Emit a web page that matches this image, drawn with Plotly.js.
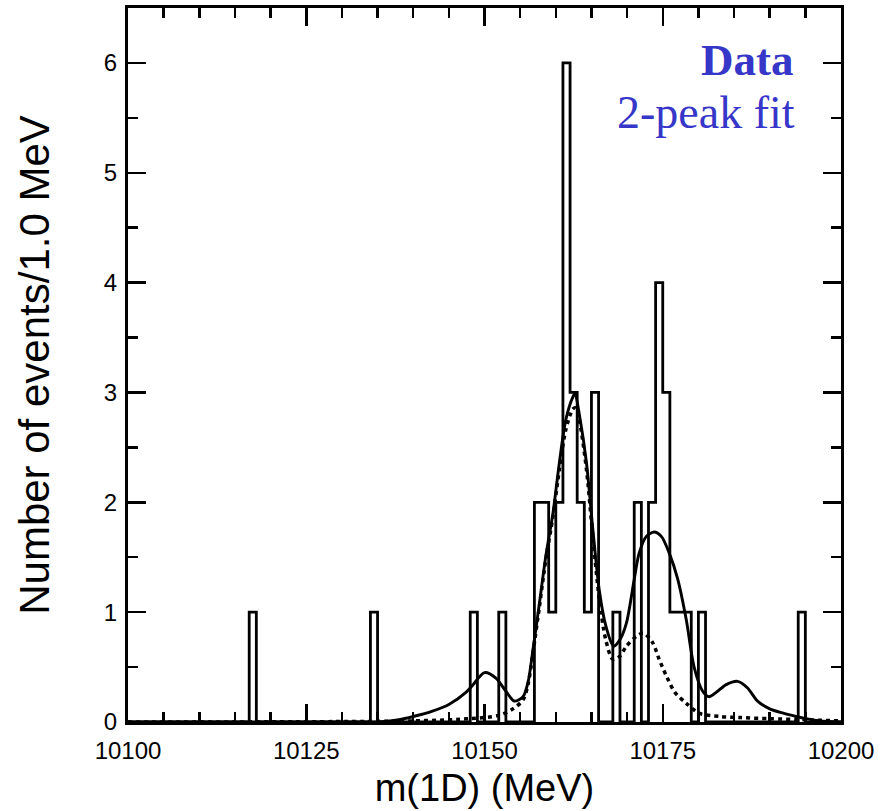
<!DOCTYPE html>
<html>
<head>
<meta charset="utf-8">
<script src="https://cdn.plot.ly/plotly-3.0.1.min.js"></script>
<style>
  html, body { margin: 0; padding: 0; background: #ffffff; }
  #chart { width: 889px; height: 811px; }
</style>
</head>
<body>
<div id="chart"></div>
<script>
// ---- Data ----
// Histogram: lower edges of non-empty 1 MeV bins and their counts
const binLow = [10117, 10134, 10148, 10152, 10157, 10158, 10159, 10160, 10161, 10162, 10163, 10164, 10165, 10168, 10171, 10173, 10174, 10175, 10176, 10177, 10178, 10180, 10194];
const binCounts = [1, 1, 1, 1, 2, 2, 1, 2, 6, 3, 2, 1, 3, 1, 2, 2, 4, 3, 1, 1, 1, 1, 1];
const histMin = 10100;
const histMax = 10200;
const binWidth = 1.0;

// 2-peak fit (solid line)
const fitX = [10100, 10130, 10136, 10138, 10140, 10142.7, 10145, 10147.4, 10148.4, 10150, 10151.6, 10153, 10154.2, 10155.4, 10156.1, 10156.8, 10157.7, 10158.6, 10159.6, 10160.5, 10161.4, 10162.4, 10162.7, 10163.3, 10164.3, 10165.2, 10166.1, 10167.0, 10168.1, 10169.0, 10169.9, 10171.0, 10171.7, 10172.7, 10173.8, 10174.8, 10175.9, 10177.1, 10178.3, 10179.4, 10180.6, 10181.5, 10182.5, 10183.9, 10185.5, 10186.9, 10188.3, 10190.0, 10191.9, 10193.7, 10195.1, 10197, 10200];
const fitY = [0, 0, 0.005, 0.02, 0.05, 0.1, 0.16, 0.27, 0.34, 0.45, 0.40, 0.28, 0.19, 0.23, 0.36, 0.66, 1.08, 1.51, 1.9, 2.36, 2.75, 2.96, 2.99, 2.8, 2.36, 1.75, 1.2, 0.88, 0.69, 0.75, 0.9, 1.3, 1.54, 1.69, 1.73, 1.69, 1.54, 1.3, 0.93, 0.5, 0.28, 0.23, 0.27, 0.34, 0.37, 0.31, 0.19, 0.12, 0.08, 0.05, 0.03, 0.01, 0];

// Component curve (dotted line)
const compX = [10100, 10140, 10148, 10152, 10154, 10155.4, 10156.1, 10156.8, 10157.7, 10158.6, 10159.6, 10160.5, 10161.4, 10162.4, 10162.8, 10163.3, 10164.3, 10165.2, 10166.1, 10167.0, 10168.0, 10169.0, 10169.9, 10171.3, 10172.3, 10173.6, 10174.5, 10175.5, 10176.7, 10178.3, 10180.1, 10183, 10186, 10190, 10195, 10200];
const compY = [0, 0.01, 0.03, 0.06, 0.12, 0.2, 0.34, 0.63, 1.05, 1.48, 1.87, 2.3, 2.66, 2.85, 2.86, 2.75, 2.3, 1.68, 1.12, 0.75, 0.57, 0.6, 0.69, 0.78, 0.81, 0.72, 0.57, 0.42, 0.27, 0.17, 0.08, 0.05, 0.04, 0.03, 0.02, 0.01];

const xTicks = [10100, 10125, 10150, 10175, 10200];
const yTicks = [0, 1, 2, 3, 4, 5, 6];
const legendLabels = ['Data', '2-peak fit'];

// ---- Build the step outline of the histogram from the bin table ----
const nBins = Math.round((histMax - histMin) / binWidth);
const full = new Array(nBins).fill(0);
binLow.forEach((lo, i) => {
  const k = Math.round((lo - histMin) / binWidth);
  if (k >= 0 && k < nBins) full[k] = binCounts[i];
});
const edgesX = [];
const stepY = [];
for (let k = 0; k <= nBins; k++) {
  edgesX.push(histMin + k * binWidth);
  stepY.push(k < nBins ? full[k] : full[nBins - 1]);
}

const blue = '#3636c8';
const axisFont = {family: 'Liberation Sans, Arial, Helvetica, sans-serif', size: 24, color: '#000'};

const traces = [
  {x: edgesX, y: stepY, type: 'scatter', mode: 'lines', line: {shape: 'hv', color: '#000', width: 2.8}, hoverinfo: 'skip'},
  {x: compX, y: compY, type: 'scatter', mode: 'lines', line: {shape: 'spline', smoothing: 0.8, color: '#000', width: 3.5, dash: '4px,4px'}, hoverinfo: 'skip'},
  {x: fitX, y: fitY, type: 'scatter', mode: 'lines', line: {shape: 'spline', smoothing: 0.8, color: '#000', width: 2.9}, hoverinfo: 'skip'}
];

const layout = {
  width: 889, height: 811,
  margin: {l: 128, r: 48, t: 8, b: 89, pad: 0},
  paper_bgcolor: '#fff', plot_bgcolor: '#fff',
  showlegend: false,
  xaxis: {
    range: [histMin, histMax], tickvals: xTicks, ticktext: xTicks.map(String),
    ticks: 'inside', ticklen: 18, tickwidth: 2.5, tickcolor: '#000',
    showline: true, linewidth: 3, linecolor: '#000', mirror: 'allticks',
    showgrid: false, zeroline: false, automargin: false,
    minor: {ticks: 'inside', ticklen: 10, tickwidth: 2.5, tickcolor: '#000', dtick: 5, tick0: 10100, showgrid: false},
    tickfont: axisFont, ticklabelstandoff: 5,
    title: {text: 'm(1D) (MeV)', font: {family: 'Liberation Sans, Arial, sans-serif', size: 38, color: '#000'}, standoff: 12}
  },
  yaxis: {
    range: [0, 6.5], tickvals: yTicks, ticktext: yTicks.map(String),
    ticks: 'inside', ticklen: 18, tickwidth: 2.5, tickcolor: '#000',
    showline: true, linewidth: 3, linecolor: '#000', mirror: 'allticks',
    showgrid: false, zeroline: false, automargin: false,
    minor: {ticks: 'inside', ticklen: 10, tickwidth: 2.5, tickcolor: '#000', dtick: 0.5, tick0: 0, showgrid: false},
    tickfont: axisFont, ticklabelstandoff: 3,
    title: {text: 'Number of events/1.0 MeV', font: {family: 'Liberation Sans, Arial, sans-serif', size: 42, color: '#000'}, standoff: 42}
  },
  annotations: [
    {xref: 'paper', yref: 'paper', x: 0.935, y: 0.927, xanchor: 'right', yanchor: 'middle', showarrow: false,
     text: '<b>' + legendLabels[0] + '</b>', font: {family: 'Liberation Serif, Times New Roman, serif', size: 45, color: blue}},
    {xref: 'paper', yref: 'paper', x: 0.938, y: 0.853, xanchor: 'right', yanchor: 'middle', showarrow: false,
     text: legendLabels[1], font: {family: 'Liberation Serif, Times New Roman, serif', size: 46, color: blue}}
  ]
};

Plotly.newPlot('chart', traces, layout, {displayModeBar: false, staticPlot: true});
</script>
</body>
</html>
